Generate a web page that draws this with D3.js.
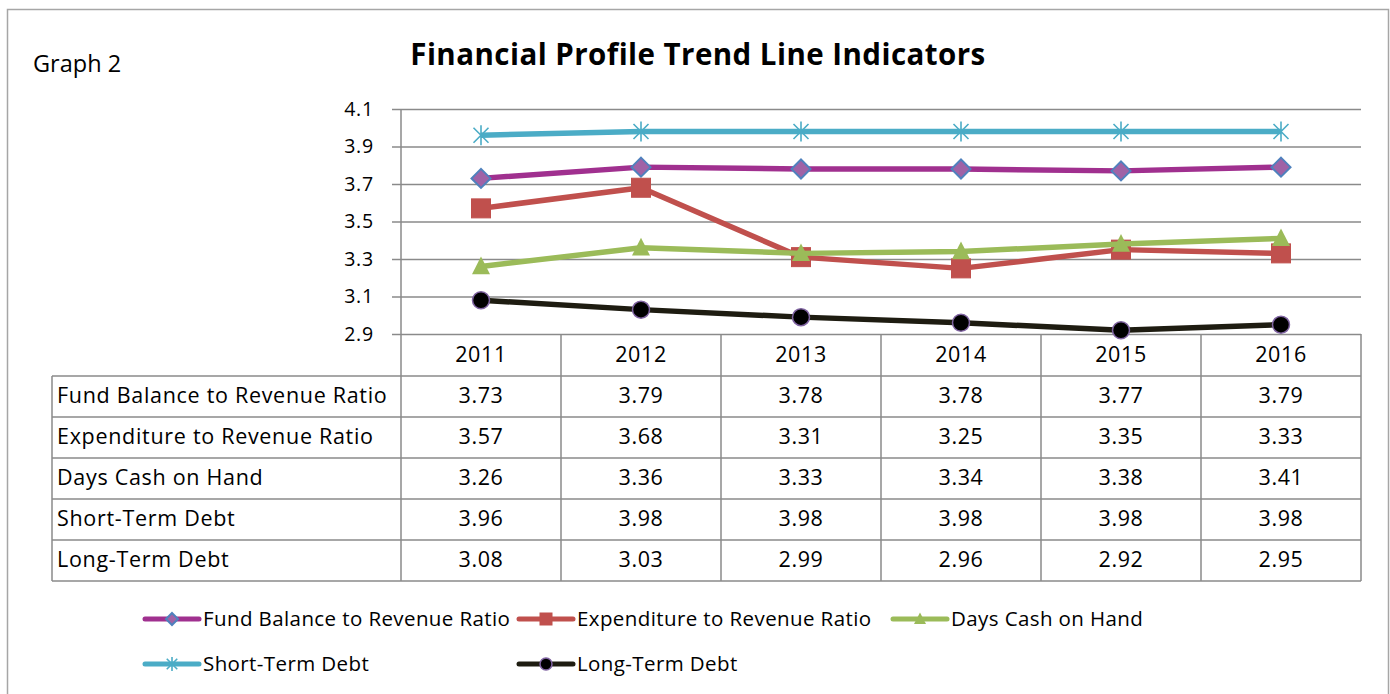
<!DOCTYPE html>
<html><head><meta charset="utf-8">
<script src="https://cdn.jsdelivr.net/npm/d3@7"></script>
<style>body{margin:0;background:#fff}svg{display:block}text{font-family:"Open Sans",sans-serif;fill:#000}</style>
</head><body><svg id="c" width="1390" height="694"></svg>
<script>
const years = ["2011","2012","2013","2014","2015","2016"];
const seriesNames = ["Fund Balance to Revenue Ratio","Expenditure to Revenue Ratio","Days Cash on Hand","Short-Term Debt","Long-Term Debt"];
const fundBalance = [3.73,3.79,3.78,3.78,3.77,3.79];
const expenditure = [3.57,3.68,3.31,3.25,3.35,3.33];
const daysCash = [3.26,3.36,3.33,3.34,3.38,3.41];
const shortTerm = [3.96,3.98,3.98,3.98,3.98,3.98];
const longTerm = [3.08,3.03,2.99,2.96,2.92,2.95];
const yTicks = [2.9,3.1,3.3,3.5,3.7,3.9,4.1];

const seriesValues = [fundBalance, expenditure, daysCash, shortTerm, longTerm];
const styles = [
  {line:"#A0308F", marker:"diamond", fill:"#A062A6", stroke:"#4F81BD"},
  {line:"#C0504D", marker:"square", fill:"#C0504D", stroke:"#C0504D"},
  {line:"#9BBB59", marker:"triangle", fill:"#9BBB59", stroke:"#9BBB59"},
  {line:"#4BACC6", marker:"asterisk", fill:"none", stroke:"#4BACC6"},
  {line:"#1E1C11", marker:"circle", fill:"#000", stroke:"#8064A2"}
];

const svg = d3.select("#c");
const L = 401, R = 1361, T = 109, B = 334;
const x = d3.scaleBand().domain(years).range([L, R]);
const y = d3.scaleLinear().domain([2.9, 4.1]).range([B, T]);
const grid = "#8a8a8a";
const fs = 21.5, ls = 0.6;

svg.append("rect").attr("x",7.5).attr("y",9.5).attr("width",1381).attr("height",700)
  .attr("fill","none").attr("stroke","#a6a6a6").attr("stroke-width",1.5);

svg.append("text").attr("x",33).attr("y",72).attr("font-size",23.5).text("Graph 2");
svg.append("text").attr("x",698).attr("y",65).attr("text-anchor","middle")
  .attr("font-size",29.5).attr("letter-spacing",0.45).attr("font-weight","bold").text("Financial Profile Trend Line Indicators");

const yAxis = d3.axisLeft(y).tickValues(yTicks).tickFormat(d3.format(".1f")).tickSize(-(R-L)).tickPadding(27);
const ga = svg.append("g").attr("transform",`translate(${L},0)`).call(yAxis);
ga.select(".domain").remove();
ga.selectAll(".tick line").attr("stroke",grid).attr("stroke-width",1.5).attr("x1",-9);
ga.selectAll(".tick text").attr("font-size",19.5).attr("letter-spacing",0.8).attr("font-family","'Open Sans',sans-serif").attr("fill","#000");
svg.append("line").attr("x1",L).attr("x2",L).attr("y1",T).attr("y2",B).attr("stroke",grid).attr("stroke-width",1.5);

const rowH = 41, headB = 376, tableL = 52;
const tb = svg.append("g");
const lineAttrs = s => s.attr("stroke",grid).attr("stroke-width",1.5);
years.forEach(yr=>{
  lineAttrs(tb.append("line").attr("x1",x(yr)+x.bandwidth()).attr("x2",x(yr)+x.bandwidth()).attr("y1",B).attr("y2",headB));
});
lineAttrs(tb.append("line").attr("x1",L).attr("x2",L).attr("y1",B).attr("y2",headB+rowH*5));
years.forEach(yr=>{
  tb.append("text").attr("x",x(yr)+x.bandwidth()/2).attr("y",362).attr("text-anchor","middle").attr("font-size",fs).attr("letter-spacing",ls).text(yr);
});
for(let i=0;i<=5;i++){
  lineAttrs(tb.append("line").attr("x1",tableL).attr("x2",R).attr("y1",headB+i*rowH).attr("y2",headB+i*rowH));
}
lineAttrs(tb.append("line").attr("x1",tableL).attr("x2",tableL).attr("y1",headB).attr("y2",headB+rowH*5));
years.forEach(yr=>{
  lineAttrs(tb.append("line").attr("x1",x(yr)+x.bandwidth()).attr("x2",x(yr)+x.bandwidth()).attr("y1",headB).attr("y2",headB+rowH*5));
});
seriesNames.forEach((n,i)=>{
  const cy = headB + i*rowH + 27;
  tb.append("text").attr("x",57).attr("y",cy).attr("font-size",fs).attr("letter-spacing",ls+0.1).text(n);
  seriesValues[i].forEach((v,j)=>{
    tb.append("text").attr("x",x(years[j])+x.bandwidth()/2).attr("y",cy).attr("text-anchor","middle").attr("font-size",fs).attr("letter-spacing",ls).text(d3.format(".2f")(v));
  });
});

function marker(g, type, cx, cy, s, st){
  if(type==="diamond"){
    g.append("path").attr("d",`M${cx},${cy-s}L${cx+s},${cy}L${cx},${cy+s}L${cx-s},${cy}Z`)
      .attr("fill",st.fill).attr("stroke",st.stroke).attr("stroke-width",2);
  } else if(type==="square"){
    g.append("rect").attr("x",cx-s).attr("y",cy-s).attr("width",2*s).attr("height",2*s)
      .attr("fill",st.fill).attr("stroke",st.stroke).attr("stroke-width",1);
  } else if(type==="triangle"){
    g.append("path").attr("d",`M${cx},${cy-s*1.1}L${cx+s},${cy+s*0.85}L${cx-s},${cy+s*0.85}Z`)
      .attr("fill",st.fill);
  } else if(type==="asterisk"){
    const a = s*0.75;
    g.append("path").attr("d",`M${cx-a},${cy-a}L${cx+a},${cy+a}M${cx-a},${cy+a}L${cx+a},${cy-a}M${cx},${cy-s}L${cx},${cy+s}`)
      .attr("stroke",st.stroke).attr("stroke-width",1.6).attr("fill","none");
  } else if(type==="circle"){
    g.append("circle").attr("cx",cx).attr("cy",cy).attr("r",s).attr("fill",st.fill).attr("stroke",st.stroke).attr("stroke-width",1.5);
  }
}
const mSize = {diamond:9.5, square:9.5, triangle:9, asterisk:10, circle:8.5};

const line = d3.line().x((d,i)=>x(years[i])+x.bandwidth()/2).y(d=>y(d));
seriesValues.forEach((vals,i)=>{
  const st = styles[i];
  const g = svg.append("g");
  g.append("path").datum(vals).attr("d",line).attr("fill","none").attr("stroke",st.line).attr("stroke-width",5.5).attr("stroke-linejoin","round");
  vals.forEach((v,j)=>marker(g, st.marker, x(years[j])+x.bandwidth()/2, y(v), mSize[st.marker], st));
});

const legendPos = [[145,619],[519,619],[893,619],[145,664],[519,664]];
const legendLen = 54;
seriesNames.forEach((n,i)=>{
  const st = styles[i];
  const [lx,ly] = legendPos[i];
  const g = svg.append("g");
  g.append("line").attr("x1",lx).attr("x2",lx+legendLen).attr("y1",ly).attr("y2",ly)
    .attr("stroke",st.line).attr("stroke-width",5).attr("stroke-linecap","round");
  marker(g, st.marker, lx+legendLen/2, ly, st.marker==="asterisk"?7:6, st);
  g.append("text").attr("x",lx+legendLen+4).attr("y",ly+7).attr("font-size",20.5).attr("letter-spacing",0.4).text(n);
});
</script></body></html>
